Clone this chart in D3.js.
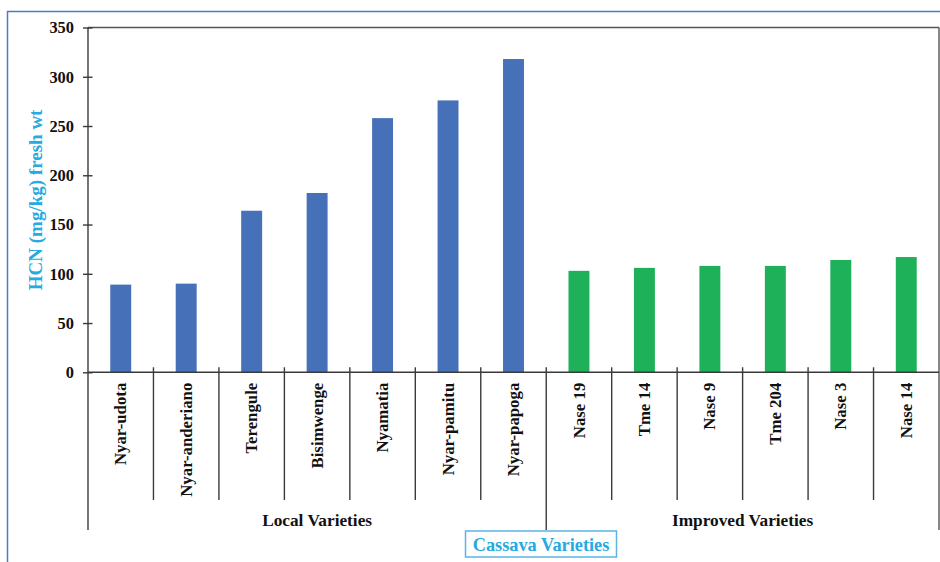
<!DOCTYPE html>
<html>
<head>
<meta charset="utf-8">
<script src="https://cdn.jsdelivr.net/npm/d3@7"></script>
<style>
  html, body { margin: 0; padding: 0; background: #fff; }
  svg { display: block; }
  text { font-family: "Liberation Serif", "Times New Roman", serif; font-weight: bold; }
</style>
</head>
<body>
<svg id="chart" width="940" height="562"></svg>
<script>
// HCN content of cassava varieties (mg/kg fresh weight)
const localVarieties = ["Nyar-udota", "Nyar-anderiano", "Terengule", "Bisimwenge", "Nyamatia", "Nyar-pamitu", "Nyar-papoga"];
const localValues = [89, 90, 164, 182, 258, 276, 318];
const improvedVarieties = ["Nase 19", "Tme 14", "Nase 9", "Tme 204", "Nase 3", "Nase 14"];
const improvedValues = [103, 106, 108, 108, 114, 117];
const groupNames = ["Local Varieties", "Improved Varieties"];
const yTicks = [0, 50, 100, 150, 200, 250, 300, 350];
const yTitle = "HCN (mg/kg) fresh wt";
const xTitle = "Cassava Varieties";

const rows = [
  ...localVarieties.map((name, i) => ({ name, value: localValues[i], group: groupNames[0] })),
  ...improvedVarieties.map((name, i) => ({ name, value: improvedValues[i], group: groupNames[1] }))
];

const svg = d3.select("#chart");
const plotLeft = 88, plotRight = 939, plotTop = 27.5, zeroY = 372.3;
const innerBottom = 500, outerBottom = 530;

const colors = { [groupNames[0]]: "#4671b9", [groupNames[1]]: "#1eb15a" };
const axisColor = "#3a3a3a";

// outer frame
svg.append("rect")
  .attr("x", 7.5).attr("y", 11.5)
  .attr("width", 960).attr("height", 600)
  .attr("fill", "none")
  .attr("stroke", "#5079c6").attr("stroke-width", 1.5);

const x = d3.scaleBand()
  .domain(rows.map(d => d.name))
  .range([plotLeft, plotRight])
  .paddingInner(0.68)
  .paddingOuter(0.34);

const y = d3.scaleLinear().domain([0, 350]).range([zeroY, plotTop]);

// plot border (top and right)
svg.append("line").attr("x1", plotLeft).attr("x2", plotRight).attr("y1", plotTop).attr("y2", plotTop)
  .attr("stroke", "#555").attr("stroke-width", 1.4);
svg.append("line").attr("x1", plotRight).attr("x2", plotRight).attr("y1", plotTop).attr("y2", outerBottom)
  .attr("stroke", "#555").attr("stroke-width", 1.4);

// bars
svg.append("g").selectAll("rect")
  .data(rows)
  .join("rect")
  .attr("x", d => x(d.name))
  .attr("width", x.bandwidth())
  .attr("y", d => y(d.value))
  .attr("height", d => y(0) - y(d.value))
  .attr("fill", d => colors[d.group]);

// y axis
const yAxis = svg.append("g")
  .attr("transform", `translate(${plotLeft},0)`)
  .call(d3.axisLeft(y).tickValues(yTicks).tickSize(5).tickPadding(9));
yAxis.select(".domain").remove();
yAxis.selectAll(".tick line").attr("x1", 4.5).attr("stroke", axisColor).attr("stroke-width", 1.4);
yAxis.selectAll(".tick text")
  .attr("fill", "#111")
  .style("font-size", "16.4px")
  .style("font-family", "'Liberation Serif', serif")
  .style("font-weight", "bold");

svg.append("line").attr("x1", plotLeft).attr("x2", plotLeft).attr("y1", plotTop).attr("y2", outerBottom)
  .attr("stroke", axisColor).attr("stroke-width", 1.4);

// category axis line
svg.append("line").attr("x1", plotLeft).attr("x2", plotRight).attr("y1", zeroY).attr("y2", zeroY)
  .attr("stroke", axisColor).attr("stroke-width", 1.4);

// dividers between categories
const step = x.step();
const dividers = rows.slice(1).map((d, i) => ({
  pos: x(d.name) - x.paddingInner() * step / 2,
  groupEdge: d.group !== rows[i].group
}));
svg.append("g").selectAll("line")
  .data(dividers)
  .join("line")
  .attr("x1", d => d.pos).attr("x2", d => d.pos)
  .attr("y1", zeroY - 5)
  .attr("y2", d => d.groupEdge ? outerBottom : innerBottom)
  .attr("stroke", axisColor).attr("stroke-width", 1.4);

// category labels
svg.append("g").selectAll("text")
  .data(rows)
  .join("text")
  .attr("transform", d => `translate(${x(d.name) + x.bandwidth() / 2},382.7) rotate(-90)`)
  .attr("text-anchor", "end")
  .attr("dy", "0.33em")
  .attr("fill", "#111")
  .style("font-size", "16.8px")
  .text(d => d.name);

// group labels
const groupSpans = groupNames.map(g => {
  const members = rows.filter(d => d.group === g);
  const a = x(members[0].name) - x.paddingInner() * step / 2;
  const b = x(members[members.length - 1].name) + x.bandwidth() + x.paddingInner() * step / 2;
  return { g, a: Math.max(a, plotLeft), b: Math.min(b, plotRight) };
});
svg.append("g").selectAll("text")
  .data(groupSpans)
  .join("text")
  .attr("x", d => (d.a + d.b) / 2)
  .attr("y", 525.5)
  .attr("text-anchor", "middle")
  .attr("fill", "#111")
  .style("font-size", "17.3px")
  .text(d => d.g);

// y axis title
svg.append("text")
  .attr("transform", `translate(35.5,${(plotTop + zeroY) / 2}) rotate(-90)`)
  .attr("text-anchor", "middle")
  .attr("dy", "0.33em")
  .attr("fill", "#27a9e1")
  .style("font-size", "19px")
  .text(yTitle);

// x axis title in a box
const titleG = svg.append("g");
titleG.append("rect")
  .attr("x", 465.5).attr("y", 531)
  .attr("width", 151).attr("height", 26)
  .attr("fill", "#fff")
  .attr("stroke", "#5ab4e6").attr("stroke-width", 1.5);
titleG.append("text")
  .attr("x", 541).attr("y", 550.5)
  .attr("text-anchor", "middle")
  .attr("fill", "#27a9e1")
  .style("font-size", "18.3px")
  .text(xTitle);
</script>
</body>
</html>
